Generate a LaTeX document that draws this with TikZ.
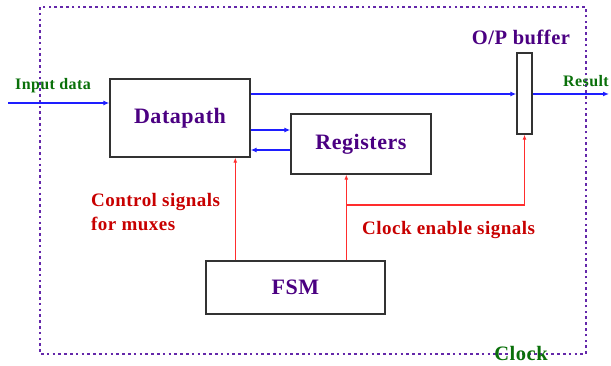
\documentclass[tikz,border=0pt]{standalone}
\usepackage{fontspec}
\setmainfont{Liberation Serif}[LetterSpace=2.5]
\usetikzlibrary{arrows.meta}
\definecolor{grn}{RGB}{10,112,10}
\definecolor{prp}{RGB}{75,0,130}
\definecolor{rtext}{RGB}{200,0,0}
\definecolor{rline}{RGB}{255,45,45}
\definecolor{blu}{RGB}{30,30,255}
\definecolor{brd}{RGB}{100,40,170}
\definecolor{boxc}{RGB}{50,50,50}
\tikzset{
  blk/.style={draw=boxc, line width=1.4pt, fill=white, inner sep=0pt, text=prp, font=\bfseries\fontsize{22}{25}\selectfont},
  bline/.style={draw=blu, line width=1.3pt, -{Latex[length=6pt,width=5pt]}},
  cline/.style={draw=rline, line width=1.5pt, -{Latex[length=5pt,width=4pt]}},
  rlab/.style={text=rtext, font=\bfseries\fontsize{19}{24}\selectfont, inner sep=0pt},
  glab/.style={text=grn, font=\bfseries\fontsize{16}{18}\selectfont, inner sep=0pt},
}
\begin{document}
\begin{tikzpicture}[x=1pt,y=-1pt]
\useasboundingbox (0,0) rectangle (611,366);
% blocks
\node[blk, minimum width=140pt, minimum height=78pt] (dp) at (180,118) {Datapath};
\node[blk, minimum width=140pt, minimum height=60pt] (reg) at (361,144) {Registers};
\node[blk, minimum width=179pt, minimum height=53pt] (fsm) at (295.5,287.5) {FSM};
\node[draw=boxc, line width=1.4pt, fill=white, minimum width=15pt, minimum height=81pt, inner sep=0pt] (buf) at (524.5,93.5) {};
% coordinates
\coordinate (in) at (8,103);
\coordinate (out) at (609,94);
\coordinate (r1) at (0,130);
\coordinate (r2) at (0,150);
% blue data paths
\draw[bline] (in) -- (in -| dp.west);
\draw[bline] (dp.east |- out) -- (buf.west |- out);
\draw[bline] (buf.east |- out) -- (out);
\draw[bline] (dp.east |- r1) -- (reg.west |- r1);
\draw[bline] (reg.west |- r2) -- (dp.east |- r2);
% red control paths
\coordinate (f1) at ([xshift=30pt]fsm.north west);
\coordinate (f2) at ([xshift=141pt]fsm.north west);
\coordinate (br) at (f2 |- 0,205);
\draw[cline] (f1) -- (f1 |- dp.south);
\draw[cline] (f2) -- (f2 |- reg.south);
\draw[cline] (br) -| (buf.south);
% border
\draw[brd, line width=2.6pt, dash pattern=on 2.6pt off 3.2pt] (40,7) rectangle (586,354);
% labels
\node[glab] (lin) at (53,86) {Input data};
\node[glab] (lres) at (586,81) {Result};
\node[text=prp, font=\bfseries\fontsize{20.5}{24}\selectfont, inner sep=0pt] (lbuf) at (521,37) {O/P buffer};
\node[rlab, anchor=west, align=left] (lctl) at (91,212) {Control signals\\for muxes};
\node[rlab, anchor=west] (lce) at (362,230) {Clock enable signals};
\node[text=grn, font=\bfseries\fontsize{20.5}{24}\selectfont, inner sep=0pt] (lclk) at (521,353) {Clock};
\end{tikzpicture}
\end{document}
